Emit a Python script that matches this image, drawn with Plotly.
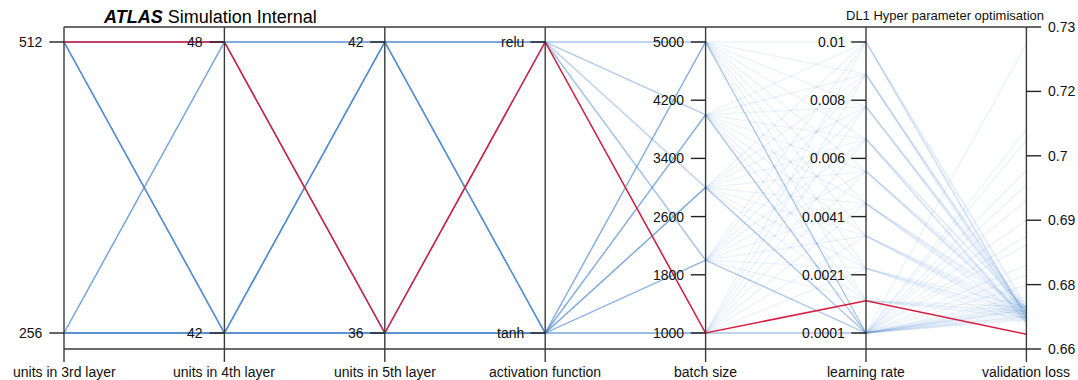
import plotly.graph_objects as go

# ---- hyper-parameter scan results: one entry per trained network ----
units_3rd = [256, 512, 256, 512, 256, 512, 256, 512, 256, 512,
             512, 256, 512, 256, 512, 256, 512, 256, 512, 256,
             256, 512, 256, 512, 256, 512, 256, 512, 256, 512,
             512, 256, 512, 256, 512, 256, 512, 256, 512, 256,
             256, 512, 256, 512, 256, 512, 256, 512, 256, 512,
             256, 512, 256, 512, 256, 512, 256, 512, 256, 512,
             256, 512, 256, 512, 256, 512, 256, 512, 256, 512]
units_4th = [42, 48, 48, 42, 42, 48, 42, 42, 48, 42,
             42, 48, 48, 42, 42, 48, 42, 42, 48, 42,
             48, 42, 42, 48, 42, 42, 48, 42, 42, 48,
             42, 42, 48, 42, 42, 48, 42, 42, 48, 42,
             42, 48, 42, 42, 48, 42, 42, 48, 42, 42,
             42, 48, 42, 42, 48, 42, 42, 48, 42, 42,
             48, 42, 42, 48, 42, 42, 48, 42, 42, 48]
units_5th = [36, 36, 42, 42, 36, 42, 42, 36, 42, 36,
             42, 36, 42, 36, 42, 36, 42, 36, 42, 36,
             42, 36, 42, 36, 42, 36, 42, 36, 42, 36,
             36, 42, 36, 42, 36, 42, 36, 42, 36, 42,
             42, 36, 42, 36, 42, 36, 42, 36, 42, 36,
             36, 42, 42, 36, 36, 42, 36, 42, 36, 42,
             36, 42, 36, 42, 36, 42, 36, 42, 36, 42]
activation = ["tanh", "relu", "tanh", "relu", "tanh", "tanh", "relu", "tanh", "relu", "tanh",
              "relu", "tanh", "tanh", "relu", "tanh", "tanh", "relu", "tanh", "tanh", "relu",
              "tanh", "relu", "tanh", "tanh", "relu", "tanh", "tanh", "relu", "tanh", "tanh",
              "tanh", "relu", "tanh", "tanh", "relu", "tanh", "tanh", "relu", "tanh", "tanh",
              "relu", "tanh", "tanh", "relu", "tanh", "tanh", "relu", "tanh", "tanh", "relu",
              "tanh", "relu", "tanh", "tanh", "relu", "tanh", "tanh", "relu", "tanh", "relu",
              "tanh", "tanh", "relu", "tanh", "tanh", "relu", "tanh", "tanh", "relu", "tanh"]
batch_size = [1000, 1000, 1000, 1000, 1000, 1000, 1000, 1000, 1000, 1000,
              2000, 2000, 2000, 2000, 2000, 2000, 2000, 2000, 2000, 2000,
              3000, 3000, 3000, 3000, 3000, 3000, 3000, 3000, 3000, 3000,
              4000, 4000, 4000, 4000, 4000, 4000, 4000, 4000, 4000, 4000,
              5000, 5000, 5000, 5000, 5000, 5000, 5000, 5000, 5000, 5000,
              1000, 1000, 1000, 1000, 2000, 2000, 2000, 2000, 3000, 3000,
              3000, 3000, 4000, 4000, 4000, 4000, 5000, 5000, 5000, 5000]
learning_rate = [0.0001, 0.0012, 0.0023, 0.0034, 0.0045, 0.0056, 0.0067, 0.0078, 0.0089, 0.01,
                 0.0001, 0.0012, 0.0023, 0.0034, 0.0045, 0.0056, 0.0067, 0.0078, 0.0089, 0.01,
                 0.0001, 0.0012, 0.0023, 0.0034, 0.0045, 0.0056, 0.0067, 0.0078, 0.0089, 0.01,
                 0.0001, 0.0012, 0.0023, 0.0034, 0.0045, 0.0056, 0.0067, 0.0078, 0.0089, 0.01,
                 0.0001, 0.0012, 0.0023, 0.0034, 0.0045, 0.0056, 0.0067, 0.0078, 0.0089, 0.01,
                 0.0001, 0.0001, 0.0001, 0.0001, 0.0001, 0.0001, 0.0001, 0.0001, 0.0001, 0.0001,
                 0.0001, 0.0001, 0.0001, 0.0001, 0.0001, 0.0001, 0.0001, 0.0001, 0.0001, 0.0001]
validation_loss = [0.6759, 0.6656, 0.6702, 0.6694, 0.6711, 0.6688, 0.6705, 0.6697, 0.6683, 0.6709,
                   0.6895, 0.6691, 0.6678, 0.6707, 0.6699, 0.6712, 0.6686, 0.6701, 0.6693, 0.6715,
                   0.6969, 0.6704, 0.6696, 0.6682, 0.6690, 0.6703, 0.6679, 0.6710, 0.6700, 0.6687,
                   0.7063, 0.6713, 0.6689, 0.6700, 0.6684, 0.6695, 0.6708, 0.6690, 0.6704, 0.6692,
                   0.7265, 0.6698, 0.6714, 0.6687, 0.6706, 0.6693, 0.6681, 0.6702, 0.6696, 0.6689,
                   0.6686, 0.6728, 0.6707, 0.6801, 0.6843, 0.6712, 0.6694, 0.7085, 0.6937, 0.6720,
                   0.6699, 0.7000, 0.6689, 0.6735, 0.6704, 0.6862, 0.6716, 0.6693, 0.6780, 0.6708]

# ---- axis definitions ----
axis_titles = ["units in 3rd layer", "units in 4th layer", "units in 5th layer",
               "activation function", "batch size", "learning rate", "validation loss"]
activation_levels = ["tanh", "relu"]

units_3rd_ticks = [256, 512]
units_4th_ticks = [42, 48]
units_5th_ticks = [36, 42]
batch_ticks = [1000, 1800, 2600, 3400, 4200, 5000]
lr_ticks = [0.0001, 0.00208, 0.00406, 0.00604, 0.00802, 0.01]
lr_tick_text = ["0.0001", "0.0021", "0.0041", "0.006", "0.008", "0.01"]
loss_ticks = [0.6625, 0.676, 0.6895, 0.703, 0.7165, 0.73]
loss_tick_text = ["0.66", "0.68", "0.69", "0.7", "0.72", "0.73"]

# vertical layout in normalised units: 0..1 is the value span of the first six axes
FRAME_LO, FRAME_HI = -0.055, 1.0515      # box lines (and the loss axis span)
AXIS_BOTTOM = -0.0997                     # axis lines run a little below the box
TITLE_Y = -0.134
TICK_LEN = 0.092                          # in axis-spacing units
LABEL_GAP = 0.028

FONT = "Liberation Sans, Arial, Helvetica, sans-serif"
BLUE = "rgba(70,135,212,0.11)"
RED = "rgb(214,30,62)"
AXIS_COLOR = "#3a3a3a"


def lin(lo, hi, a=0.0, b=1.0):
    return lambda v: a + (v - lo) / (hi - lo) * (b - a)


scales = [
    lin(256, 512),
    lin(42, 48),
    lin(36, 42),
    lambda v: float(activation_levels.index(v)),
    lin(1000, 5000),
    lin(0.0001, 0.01),
    lin(loss_ticks[0], loss_ticks[-1], FRAME_LO, FRAME_HI),
]
columns = [units_3rd, units_4th, units_5th, activation, batch_size, learning_rate, validation_loss]
tick_sets = [
    (units_3rd_ticks, [str(t) for t in units_3rd_ticks]),
    (units_4th_ticks, [str(t) for t in units_4th_ticks]),
    (units_5th_ticks, [str(t) for t in units_5th_ticks]),
    (activation_levels, activation_levels),
    (batch_ticks, [str(t) for t in batch_ticks]),
    (lr_ticks, lr_tick_text),
    (loss_ticks, loss_tick_text),
]

n_axes = len(axis_titles)
xs = list(range(n_axes))
best = min(range(len(validation_loss)), key=lambda i: validation_loss[i])

fig = go.Figure()

# all trials in blue, the best one drawn last in red
order = [i for i in range(len(validation_loss)) if i != best] + [best]
for i in order:
    ys = [scales[k](columns[k][i]) for k in range(n_axes)]
    is_best = i == best
    fig.add_trace(go.Scatter(
        x=xs, y=ys, mode="lines",
        line=dict(color=RED if is_best else BLUE, width=1.5 if is_best else 1.3),
        hoverinfo="skip", showlegend=False,
    ))

shapes = []
annotations = []
line_style = dict(color=AXIS_COLOR, width=1.4)

# box lines at top and bottom
for yv in (FRAME_LO, FRAME_HI):
    shapes.append(dict(type="line", xref="x", yref="y", x0=0, x1=n_axes - 1,
                       y0=yv, y1=yv, line=line_style, layer="below"))

for k in range(n_axes):
    shapes.append(dict(type="line", xref="x", yref="y", x0=k, x1=k,
                       y0=AXIS_BOTTOM, y1=FRAME_HI, line=line_style, layer="above"))
    vals, texts = tick_sets[k]
    right = k == n_axes - 1
    for v, t in zip(vals, texts):
        yv = scales[k](v)
        x_end = k + TICK_LEN if right else k - TICK_LEN
        shapes.append(dict(type="line", xref="x", yref="y", x0=k, x1=x_end,
                           y0=yv, y1=yv, line=dict(color="#222222", width=1.4),
                           layer="above"))
        annotations.append(dict(
            x=x_end + (LABEL_GAP if right else -LABEL_GAP), y=yv, xref="x", yref="y",
            text=t, showarrow=False, xanchor="left" if right else "right",
            yanchor="middle", font=dict(family=FONT, size=14, color="#111111")))
    annotations.append(dict(
        x=k, y=TITLE_Y, xref="x", yref="y", text=axis_titles[k], showarrow=False,
        xanchor="center", yanchor="middle",
        font=dict(family=FONT, size=14, color="#111111")))

annotations.append(dict(
    x=210 / 1078, y=1 - 17 / 380, xref="paper", yref="paper",
    text="<b><i>ATLAS</i></b> Simulation Internal", showarrow=False,
    xanchor="center", yanchor="middle",
    font=dict(family=FONT, size=18, color="#000000")))
annotations.append(dict(
    x=945 / 1078, y=1 - 15 / 380, xref="paper", yref="paper",
    text="DL1 Hyper parameter optimisation", showarrow=False,
    xanchor="center", yanchor="middle",
    font=dict(family=FONT, size=13, color="#111111")))

spacing = 160.4
fig.update_layout(
    width=1078, height=380, autosize=False,
    margin=dict(l=0, r=0, t=0, b=0),
    paper_bgcolor="white", plot_bgcolor="white",
    xaxis=dict(range=[-64 / spacing, (1078 - 64) / spacing], visible=False, fixedrange=True),
    yaxis=dict(range=[(333 - 380) / 291, 333 / 291], visible=False, fixedrange=True),
    shapes=shapes, annotations=annotations, showlegend=False,
)

fig.write_html("out.html")
